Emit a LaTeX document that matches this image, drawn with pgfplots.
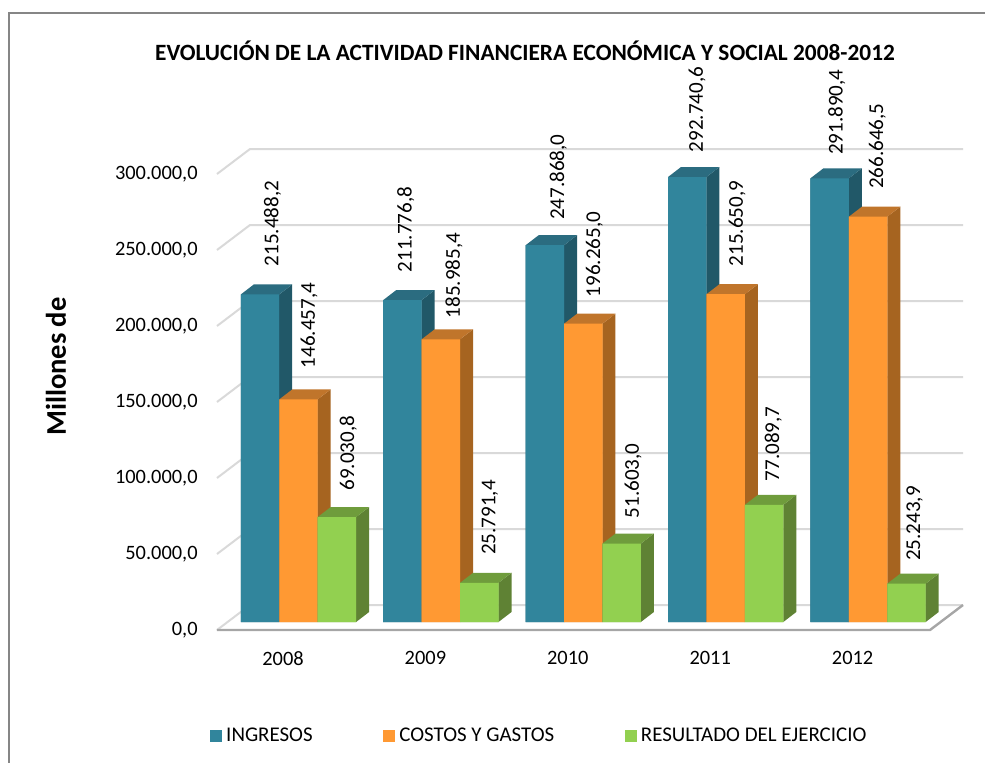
\documentclass[border=0pt]{standalone}
\usepackage{fontspec}
\setmainfont{Carlito}
\usepackage{pgfplots}
\usepackage{pgfplotstable}
\pgfplotsset{compat=1.18}
\definecolor{frameC}{HTML}{868686}
\definecolor{gridC}{HTML}{D9D9D9}
\definecolor{floorC}{HTML}{A6A6A6}
\definecolor{blueF}{HTML}{31859C}
\definecolor{blueT}{HTML}{2B6C80}
\definecolor{blueS}{HTML}{215868}
\definecolor{orangeF}{HTML}{FF9933}
\definecolor{orangeT}{HTML}{C0752B}
\definecolor{orangeS}{HTML}{A66420}
\definecolor{greenF}{HTML}{92D050}
\definecolor{greenT}{HTML}{6F9C3C}
\definecolor{greenS}{HTML}{5F8234}
\pgfplotstableread{
x y label dx dy
0 215488.2 215.488,2 -10.5 30.5
1 211776.8 211.776,8 -19.7 30.1
2 247868.0 247.868,0 -9.5 27.5
3 292740.6 292.740,6 -13.2 27.0
4 291890.4 291.890,4 -15.9 25.6
}\tblA
\pgfplotstableread{
x y label dx dy
0 146457.4 146.457,4 26.0 33.4
1 185985.4 185.985,4 28.6 23.3
2 196265.0 196.265,0 26.5 28.7
3 215650.9 215.650,9 26.8 30.2
4 266646.5 266.646,5 24.7 30.0
}\tblB
\pgfplotstableread{
x y label dx dy
0 69030.8 69.030,8 65.3 28.8
1 25791.4 25.791,4 64.6 30.1
2 51603.0 51.603,0 65.2 27.6
3 77089.7 77.089,7 63.1 25.8
4 25243.9 25.243,9 62.1 24.9
}\tblC
% side and top faces of one 3-D bar: #1 group, #2 left offset, #3 value, #4 top colour, #5 side colour
\newcommand\faces[5]{%
  \pgfmathsetmacro\xa{#1+#2}%
  \pgfmathsetmacro\xb{\xa+0.2697}%
  \pgfmathsetmacro\xc{\xb+0.0913}%
  \pgfmathsetmacro\xd{\xa+0.0913}%
  \begingroup\pgfkeys{/pgf/fpu=true,/pgf/fpu/output format=fixed}%
  \pgfmathparse{#3+6579}\xdef\ya{\pgfmathresult}\endgroup
  \edef\temp{\noexpand\addplot[fill=#5,draw=none,forget plot] coordinates {(\xb,0)(\xc,6579)(\xc,\ya)(\xb,#3)} \noexpand\closedcycle;
  \noexpand\addplot[fill=#4,draw=none,forget plot] coordinates {(\xa,#3)(\xd,\ya)(\xc,\ya)(\xb,#3)} \noexpand\closedcycle;}%
  \temp
}
\pgfplotsset{
  barlabels/.style={
    nodes near coords,point meta=explicit symbolic,
    visualization depends on=\thisrow{dx}\as\dxpx,
    visualization depends on=\thisrow{dy}\as\dypx,
    nodes near coords style={xshift=0.75pt*\dxpx,yshift=0.75pt*\dypx-1.8pt,rotate=90,anchor=west,inner sep=0pt,text=black,font=\fontsize{15.8}{18}\selectfont}
  }
}
\begin{document}
\begin{tikzpicture}
\useasboundingbox (0pt,0pt) rectangle (738.75pt,-572.25pt);
\draw[frameC,line width=1.4pt] (6.9pt,-572.25pt) -- (6.9pt,-9.9pt) -- (738.75pt,-9.9pt);
\begin{axis}[
  at={(162.75pt,-472.5pt)}, anchor=south west,
  scale only axis, width=561pt, height=427.5pt,
  xmin=-0.46348, xmax=4.7893, ymin=-5263.16, ymax=369737,
  clip=false,
  axis line style={draw=none},
  tick style={draw=none},
  scaled y ticks=false,
  xtick={0,1,2,3,4},
  xticklabels={2008,2009,2010,2011,2012},
  ytick={-5263,44737,94737,144737,194737,244737,294737},
  yticklabels={{0,0},{50.000,0},{100.000,0},{150.000,0},{200.000,0},{250.000,0},{300.000,0}},
  tick label style={font=\fontsize{15.3}{18}\selectfont},
  xticklabel style={yshift=-12.5pt},
  yticklabel style={xshift=-11pt},
  unbounded coords=jump,
  legend columns=-1,
  legend cell align=left,
  legend image code/.code={\fill[#1] (0pt,-4.5pt) rectangle (9pt,4.5pt);},
  legend style={draw=none,fill=none,at={(-0.0094,-0.186)},anchor=west,inner sep=0pt,
    font=\fontsize{15.7}{18}\selectfont,
    /tikz/every even column/.style={column sep=50pt},
    nodes={inner xsep=3pt,inner ysep=0pt}},
]
% walls
\addplot[gridC,line width=1.5pt,forget plot] coordinates {
 (-0.4635,-5263)(-0.2317,11184)(4.7753,11184)(nan,nan)
 (-0.4635,44737)(-0.2317,61184)(4.7753,61184)(nan,nan)
 (-0.4635,94737)(-0.2317,111184)(4.7753,111184)(nan,nan)
 (-0.4635,144737)(-0.2317,161184)(4.7753,161184)(nan,nan)
 (-0.4635,194737)(-0.2317,211184)(4.7753,211184)(nan,nan)
 (-0.4635,244737)(-0.2317,261184)(4.7753,261184)(nan,nan)
 (-0.4635,294737)(-0.2317,311184)(4.7753,311184)
};
\addplot[floorC,line width=1.8pt,forget plot] coordinates {(-0.4635,-5263)(4.5435,-5263)(4.7753,11184)};
% blue
\faces{0}{-0.2964}{215488.2}{blueT}{blueS}
\faces{1}{-0.2964}{211776.8}{blueT}{blueS}
\faces{2}{-0.2964}{247868.0}{blueT}{blueS}
\faces{3}{-0.2964}{292740.6}{blueT}{blueS}
\faces{4}{-0.2964}{291890.4}{blueT}{blueS}
\addplot[ybar,bar width=0.2697,bar shift=-0.1615,fill=blueF,draw=none,barlabels]
  table[x=x,y=y,meta=label]{\tblA};
\addlegendentry{INGRESOS}
% orange
\faces{0}{-0.0261}{146457.4}{orangeT}{orangeS}
\faces{1}{-0.0261}{185985.4}{orangeT}{orangeS}
\faces{2}{-0.0261}{196265.0}{orangeT}{orangeS}
\faces{3}{-0.0261}{215650.9}{orangeT}{orangeS}
\faces{4}{-0.0261}{266646.5}{orangeT}{orangeS}
\addplot[ybar,bar width=0.2697,bar shift=0.1088,fill=orangeF,draw=none,barlabels]
  table[x=x,y=y,meta=label]{\tblB};
\addlegendentry{COSTOS Y GASTOS}
% green
\faces{0}{0.2436}{69030.8}{greenT}{greenS}
\faces{1}{0.2436}{25791.4}{greenT}{greenS}
\faces{2}{0.2436}{51603.0}{greenT}{greenS}
\faces{3}{0.2436}{77089.7}{greenT}{greenS}
\faces{4}{0.2436}{25243.9}{greenT}{greenS}
\addplot[ybar,bar width=0.2697,bar shift=0.3785,fill=greenF,draw=none,barlabels]
  table[x=x,y=y,meta=label]{\tblC};
\addlegendentry{RESULTADO DEL EJERCICIO}
\end{axis}
\node[font=\fontsize{17.5}{20}\selectfont\bfseries] at (393.75pt,-37.8pt) {EVOLUCIÓN DE LA ACTIVIDAD FINANCIERA ECONÓMICA Y SOCIAL 2008-2012};
\node[rotate=90,font=\fontsize{21.4}{24}\selectfont\bfseries] at (42pt,-275pt) {Millones de};
\end{tikzpicture}
\end{document}
